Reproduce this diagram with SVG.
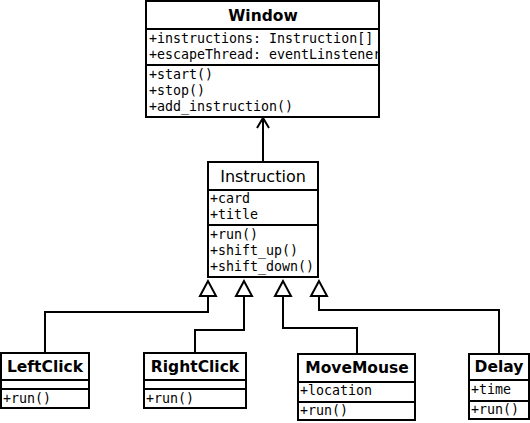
<svg xmlns="http://www.w3.org/2000/svg" width="530" height="423" viewBox="0 0 530 423">
<style>
.box{fill:#fff;stroke:#000;stroke-width:2}
.sep{stroke:#000;stroke-width:2}
.t{font-family:"DejaVu Sans",sans-serif;font-weight:bold;font-size:15.5px;text-anchor:middle;fill:#000}
.tr{font-family:"DejaVu Sans",sans-serif;font-size:16px;text-anchor:middle;fill:#000}
.m{font-family:"DejaVu Sans Mono",monospace;font-size:13.3px;fill:#000}
.c{fill:none;stroke:#000;stroke-width:2}
.tri{fill:#fff;stroke:#000;stroke-width:2;stroke-linejoin:miter}
</style>
<defs>
<clipPath id="wclip"><rect x="146" y="1" width="232" height="116"/></clipPath>
</defs>
<rect width="530" height="423" fill="#fff"/>
<g id="connectors">
<path class="c" d="M263,162 V118"/>
<path class="c" d="M257,128 L263,118 L269,128"/>
<path class="c" d="M208,296 V312 H45 V353"/>
<path class="c" d="M244,296 V330 H195 V353"/>
<path class="c" d="M283,296 V328 H357 V354"/>
<path class="c" d="M319,296 V310 H499 V354"/>
<polygon class="tri" points="208,281 200,296 216,296"/>
<polygon class="tri" points="244,281 236,296 252,296"/>
<polygon class="tri" points="283,281 275,296 291,296"/>
<polygon class="tri" points="319,281 311,296 327,296"/>
</g>
<g id="Window">
<rect class="box" x="146" y="1" width="233" height="116"/>
<line class="sep" x1="146" y1="29" x2="379" y2="29"/>
<line class="sep" x1="146" y1="65" x2="379" y2="65"/>
<text class="t" x="263" y="21">Window</text>
<g clip-path="url(#wclip)">
<text class="m" x="149" y="43">+instructions: Instruction[]</text>
<text class="m" x="149" y="59">+escapeThread: eventLinstener</text>
</g>
<text class="m" x="149" y="79">+start()</text>
<text class="m" x="149" y="95">+stop()</text>
<text class="m" x="149" y="111">+add_instruction()</text>
</g>
<g id="Instruction">
<rect class="box" x="208" y="162" width="110" height="115"/>
<line class="sep" x1="208" y1="190" x2="318" y2="190"/>
<line class="sep" x1="208" y1="225" x2="318" y2="225"/>
<text class="tr" x="263" y="182">Instruction</text>
<text class="m" x="210" y="203">+card</text>
<text class="m" x="210" y="219">+title</text>
<text class="m" x="210" y="239">+run()</text>
<text class="m" x="210" y="255">+shift_up()</text>
<text class="m" x="210" y="271">+shift_down()</text>
</g>
<g id="LeftClick">
<rect class="box" x="1" y="353" width="88" height="55"/>
<line class="sep" x1="1" y1="380" x2="89" y2="380"/>
<line class="sep" x1="1" y1="389" x2="89" y2="389"/>
<text class="t" x="45" y="372">LeftClick</text>
<text class="m" x="3" y="403">+run()</text>
</g>
<g id="RightClick">
<rect class="box" x="144" y="353" width="102" height="55"/>
<line class="sep" x1="144" y1="380" x2="246" y2="380"/>
<line class="sep" x1="144" y1="389" x2="246" y2="389"/>
<text class="t" x="195" y="372">RightClick</text>
<text class="m" x="146" y="403">+run()</text>
</g>
<g id="MoveMouse">
<rect class="box" x="298" y="354" width="117" height="66"/>
<line class="sep" x1="298" y1="382" x2="415" y2="382"/>
<line class="sep" x1="298" y1="402" x2="415" y2="402"/>
<text class="t" x="357" y="373">MoveMouse</text>
<text class="m" x="300" y="395">+location</text>
<text class="m" x="300" y="415">+run()</text>
</g>
<g id="Delay">
<rect class="box" x="469" y="354" width="60" height="65"/>
<line class="sep" x1="469" y1="380" x2="529" y2="380"/>
<line class="sep" x1="469" y1="401" x2="529" y2="401"/>
<text class="t" x="499" y="372">Delay</text>
<text class="m" x="471" y="394">+time</text>
<text class="m" x="471" y="414">+run()</text>
</g>
</svg>
